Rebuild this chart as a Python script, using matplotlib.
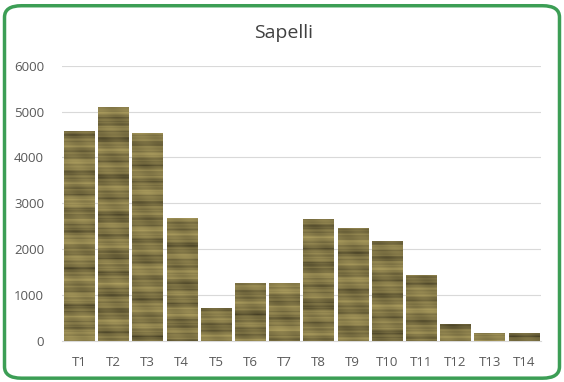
import numpy as np
import matplotlib
matplotlib.use("Agg")
import matplotlib.pyplot as plt
from matplotlib.patches import FancyBboxPatch

categories = ["T1", "T2", "T3", "T4", "T5", "T6", "T7", "T8", "T9", "T10", "T11", "T12", "T13", "T14"]
values = [4580, 5110, 4540, 2670, 715, 1255, 1270, 2650, 2450, 2180, 1440, 365, 168, 168]
yticks = [0, 1000, 2000, 3000, 4000, 5000, 6000]

plt.rcParams['font.family'] = ['Open Sans', 'DejaVu Sans']

fig = plt.figure(figsize=(5.64, 3.82), dpi=100)
fig.patch.set_facecolor('white')
border = FancyBboxPatch((0.008, 0.01), 0.984, 0.975, boxstyle="round,pad=0,rounding_size=0.03",
                        transform=fig.transFigure, facecolor='none', edgecolor='#3c9e55',
                        linewidth=2.5, zorder=5)
fig.patches.append(border)

ax = fig.add_axes([0.110, 0.108, 0.849, 0.720])
ax.set_facecolor('none')
x = np.arange(len(categories))
bars = ax.bar(x, values, width=0.885, color='#8a7c4e', zorder=2)

# wood-grain texture (decorative, deterministic)
rows = 600
yy = np.linspace(0, 1, rows)
light = np.array([175, 160, 96]) / 255
dark = np.array([62, 56, 32]) / 255
for i, b in enumerate(bars):
    ph = i * 1.7
    s = (0.5 * np.sin(yy * 90 + ph) + 0.35 * np.sin(yy * 233 + 2.3 * ph)
         + 0.3 * np.sin(yy * 517 + 0.7 * ph) + 0.2 * np.sin(yy * 41 + 3.1 * ph)
         + 0.2 * np.sin(yy * 871 + 1.3 * ph))
    cols = 24
    xx = np.linspace(0, 1, cols)
    grid = s[:, None] + 0.2 * np.sin(xx[None, :] * 7 + yy[:, None] * 37 + ph)
    t = (grid - grid.min()) / (grid.max() - grid.min())
    t = t ** 0.75
    img = dark[None, None, :] * (1 - t[..., None]) + light[None, None, :] * t[..., None]
    x0 = b.get_x()
    im = ax.imshow(img, extent=[x0, x0 + b.get_width(), 0, 6000], aspect='auto',
                   origin='lower', zorder=3, interpolation='bilinear')
    im.set_clip_path(b)

ax.set_xlim(-0.5, len(categories) - 0.5)
ax.set_ylim(0, 6000)
ax.set_yticks(yticks)
ax.set_yticklabels([str(v) for v in yticks])
ax.set_xticks(x)
ax.set_xticklabels(categories)
ax.yaxis.grid(True, color='#d9d9d9', linewidth=0.8, zorder=0)
ax.set_axisbelow(True)
for sp in ax.spines.values():
    sp.set_visible(False)
ax.spines['bottom'].set_visible(True)
ax.spines['bottom'].set_color('#d9d9d9')
ax.tick_params(axis='both', length=0, colors='#595959', labelsize=9.5)
ax.tick_params(axis='x', pad=11)
ax.tick_params(axis='y', pad=13)
fig.text(0.502, 0.913, "Sapelli", ha='center', va='center', fontsize=14, color='#404040')

fig.savefig("out.png", dpi=100)
